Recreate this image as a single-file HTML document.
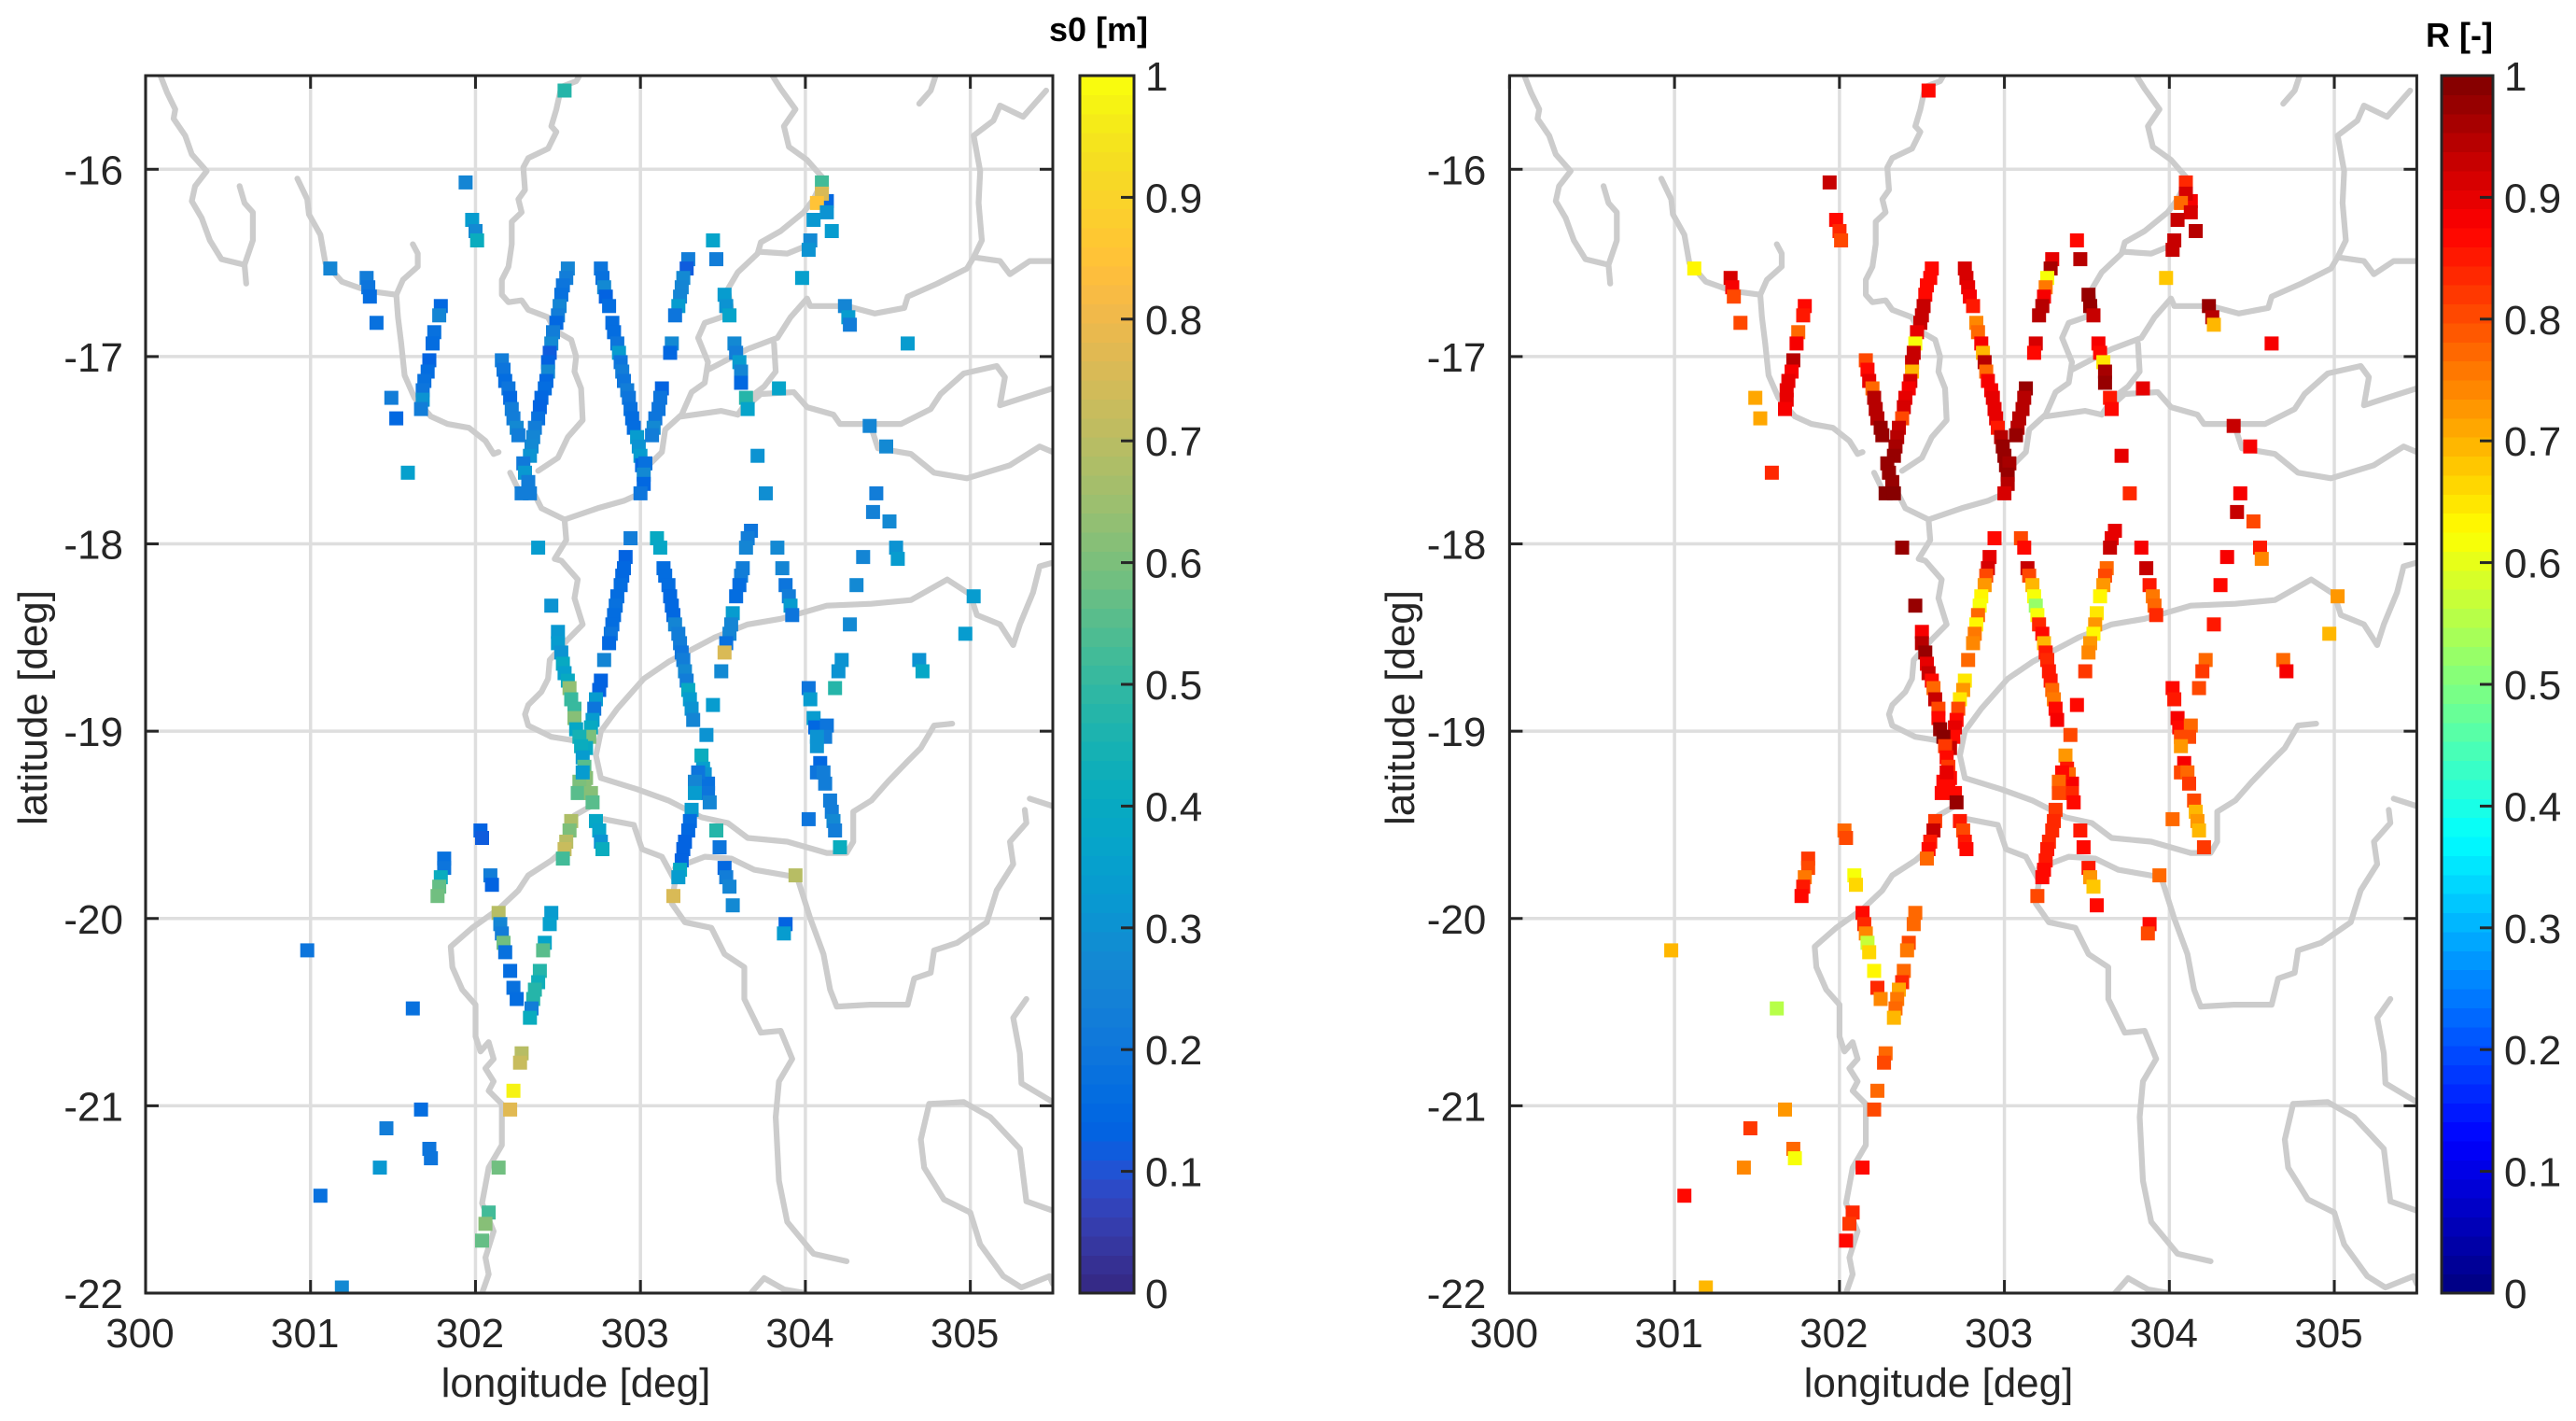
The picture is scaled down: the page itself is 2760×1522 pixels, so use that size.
<!DOCTYPE html>
<html lang="en">
<head>
<meta charset="utf-8">
<title>s0 and R maps</title>
<style>
html,body{margin:0;padding:0;background:#fff;}
svg{display:block;}
text{font-family:"Liberation Sans",sans-serif;fill:#262626;}
</style>
</head>
<body>
<svg id="figure" xmlns="http://www.w3.org/2000/svg" width="2760" height="1522" viewBox="0 0 2760 1522">
  <rect x="0" y="0" width="2760" height="1522" fill="#ffffff"/>
  <g id="panel-s0"></g>
  <g id="panel-r"></g>
  <text x="617" y="1496" font-size="44" text-anchor="middle">longitude [deg]</text>
  <text x="2077" y="1496" font-size="44" text-anchor="middle">longitude [deg]</text>
  <text transform="translate(50 758) rotate(-90)" font-size="44" text-anchor="middle">latitude [deg]</text>
  <text transform="translate(1515 758) rotate(-90)" font-size="44" text-anchor="middle">latitude [deg]</text>
  <text x="1230" y="44" font-size="36" font-weight="bold" text-anchor="end" style="fill:#000">s0 [m]</text>
  <text x="2671" y="50" font-size="36" font-weight="bold" text-anchor="end" style="fill:#000">R [-]</text>
</svg>
<script>
// ---------- chart data (longitude deg, latitude deg, s0 m, R -) ----------
const lonTicks=[300,301,302,303,304,305];
const latTicks=[-16,-17,-18,-19,-20,-21,-22];
const colorTicks=[0,0.1,0.2,0.3,0.4,0.5,0.6,0.7,0.8,0.9,1];

const lon=[
302.54,301.94,301.98,302.00,302.01,301.12,301.34,301.35,301.36,301.40,
301.79,301.78,301.75,301.74,301.72,301.71,301.69,301.68,301.68,301.67,301.49,301.52,301.59,
302.56,302.55,302.53,302.52,302.51,302.50,302.49,302.47,302.46,302.45,302.44,302.44,302.43,302.42,302.40,302.39,302.38,302.36,302.35,302.34,302.33,302.29,302.30,302.32,302.28,302.33,
302.16,302.17,302.18,302.20,302.21,302.22,302.23,302.25,302.26,
302.76,302.77,302.78,302.79,302.81,302.83,302.84,302.86,302.87,302.88,302.89,302.90,302.92,302.93,302.94,302.95,302.96,302.98,302.99,303.00,303.01,
303.13,303.12,303.11,303.09,303.08,303.07,303.03,303.02,303.02,303.00,
303.19,303.18,303.29,303.28,303.26,303.25,303.24,303.23,303.21,303.44,303.46,303.51,303.52,303.54,303.57,303.58,303.60,303.61,303.61,303.64,303.65,303.84,
304.13,304.10,304.10,304.07,304.13,304.05,304.16,304.03,304.02,303.98,304.24,304.26,304.27,304.62,
304.39,304.49,303.71,303.76,304.43,304.41,304.51,304.55,304.56,304.35,304.31,305.02,304.27,304.97,304.69,304.71,304.22,304.20,304.18,304.02,304.03,
303.67,303.65,303.64,303.83,303.62,303.61,303.60,303.58,303.86,303.88,303.90,303.91,303.92,303.56,303.55,303.54,303.52,303.51,303.49,303.44,
302.94,302.91,302.90,302.89,302.88,302.86,302.85,302.84,302.83,302.82,302.81,302.78,302.76,302.75,302.73,302.72,302.71,302.70,302.69,302.67,
303.10,303.12,303.14,303.15,303.17,303.18,303.19,303.20,303.21,303.23,303.24,303.25,303.26,303.27,303.28,303.29,303.30,303.31,303.32,
302.38,302.46,302.50,302.50,302.52,302.53,302.54,302.56,302.57,302.58,302.60,302.60,302.61,302.63,302.64,302.65,302.66,302.67,302.66,302.63,302.65,302.62,302.70,302.71,
302.73,302.75,302.76,302.77,302.58,302.57,302.55,302.54,302.53,
303.40,303.37,303.38,303.39,303.41,303.41,303.42,303.35,303.33,303.33,303.31,303.30,303.29,303.27,303.26,303.25,303.24,303.23,303.20,303.46,303.48,303.51,303.52,303.54,303.56,
303.94,303.88,303.87,304.02,304.05,304.06,304.13,304.12,304.07,304.07,304.09,304.07,304.11,304.12,304.15,304.16,304.17,304.18,304.21,
302.03,302.04,301.81,301.81,301.79,301.78,301.77,302.09,302.10,302.14,302.15,302.16,302.17,302.18,302.21,302.23,302.25,
302.46,302.45,302.42,302.41,302.39,302.38,302.36,302.35,302.34,302.33,300.98,301.62,302.28,302.27,302.23,302.21,301.67,301.46,301.72,301.73,301.42,302.14,301.06,302.08,302.06,302.04,301.19
];
const lat=[
-15.58,-16.07,-16.27,-16.33,-16.38,-16.53,-16.58,-16.63,-16.68,-16.82,
-16.73,-16.78,-16.87,-16.93,-17.02,-17.08,-17.13,-17.18,-17.23,-17.28,-17.22,-17.33,-17.62,
-16.53,-16.58,-16.62,-16.67,-16.73,-16.78,-16.82,-16.87,-16.93,-16.98,-17.03,-17.08,-17.13,-17.17,-17.22,-17.27,-17.33,-17.38,-17.43,-17.48,-17.53,-17.57,-17.62,-17.67,-17.73,-17.73,
-17.02,-17.07,-17.13,-17.17,-17.22,-17.28,-17.33,-17.38,-17.42,
-16.53,-16.58,-16.63,-16.68,-16.73,-16.82,-16.87,-16.93,-16.98,-17.03,-17.08,-17.13,-17.18,-17.22,-17.28,-17.33,-17.38,-17.43,-17.48,-17.53,-17.58,
-17.17,-17.22,-17.28,-17.33,-17.38,-17.42,-17.57,-17.63,-17.68,-17.73,
-16.93,-16.98,-16.48,-16.53,-16.58,-16.63,-16.68,-16.73,-16.78,-16.38,-16.48,-16.67,-16.73,-16.78,-16.93,-16.98,-17.03,-17.08,-17.14,-17.22,-17.28,-17.17,
-16.17,-16.07,-16.13,-16.18,-16.23,-16.27,-16.33,-16.38,-16.43,-16.58,-16.73,-16.79,-16.83,-16.93,
-17.37,-17.48,-17.53,-17.73,-17.73,-17.83,-17.88,-18.02,-18.08,-18.07,-18.22,-18.28,-18.43,-18.48,-18.62,-18.68,-18.62,-18.68,-18.77,-18.77,-18.83,
-17.93,-17.97,-18.02,-18.02,-18.13,-18.17,-18.22,-18.28,-18.13,-18.22,-18.28,-18.33,-18.38,-18.37,-18.43,-18.48,-18.53,-18.58,-18.68,-18.86,
-17.97,-18.07,-18.13,-18.17,-18.22,-18.28,-18.33,-18.38,-18.43,-18.48,-18.53,-18.62,-18.73,-18.78,-18.83,-18.88,-18.94,-18.98,-19.03,-19.09,
-17.97,-18.02,-18.13,-18.17,-18.22,-18.28,-18.33,-18.38,-18.43,-18.48,-18.53,-18.58,-18.62,-18.68,-18.73,-18.78,-18.83,-18.88,-18.94,
-18.02,-18.33,-18.47,-18.53,-18.58,-18.64,-18.69,-18.73,-18.77,-18.83,-18.88,-18.93,-18.99,-19.03,-19.08,-19.14,-19.19,-19.25,-19.27,-19.27,-19.22,-19.33,-19.33,-19.38,
-19.48,-19.53,-19.59,-19.63,-19.48,-19.53,-19.59,-19.63,-19.68,
-19.02,-19.13,-19.20,-19.23,-19.28,-19.33,-19.38,-19.22,-19.27,-19.33,-19.42,-19.48,-19.53,-19.59,-19.63,-19.69,-19.74,-19.78,-19.88,-19.53,-19.62,-19.73,-19.78,-19.83,-19.93,
-19.77,-20.03,-20.08,-19.47,-18.93,-18.98,-18.97,-19.03,-19.03,-19.08,-19.17,-19.22,-19.22,-19.28,-19.37,-19.43,-19.48,-19.53,-19.62,
-19.53,-19.57,-19.68,-19.73,-19.78,-19.83,-19.88,-19.77,-19.82,-19.97,-20.03,-20.08,-20.13,-20.18,-20.28,-20.37,-20.43,
-19.97,-20.03,-20.13,-20.17,-20.28,-20.34,-20.38,-20.43,-20.48,-20.53,-20.17,-20.48,-20.72,-20.77,-20.92,-21.02,-21.02,-21.12,-21.23,-21.28,-21.33,-21.33,-21.48,-21.57,-21.63,-21.72,-21.97
];
const s0Values=[
.47,.25,.33,.27,.42,.25,.22,.2,.17,.18,
.15,.25,.18,.17,.14,.16,.18,.19,.3,.23,.22,.15,.35,
.25,.22,.2,.18,.25,.22,.15,.22,.27,.12,.13,.27,.15,.16,.15,.13,.18,.22,.25,.28,.3,.21,.32,.22,.22,.23,
.23,.2,.16,.19,.15,.23,.22,.27,.23,
.2,.18,.28,.14,.16,.17,.17,.2,.33,.19,.23,.2,.22,.2,.18,.16,.16,.33,.3,.33,.15,
.14,.2,.2,.2,.27,.22,.18,.28,.15,.19,
.27,.15,.22,.12,.27,.25,.25,.33,.2,.37,.23,.33,.3,.37,.27,.22,.33,.25,.15,.47,.37,.37,
.15,.52,.75,.85,.3,.32,.33,.27,.3,.35,.25,.33,.22,.33,
.25,.27,.3,.29,.23,.24,.28,.31,.33,.25,.27,.33,.28,.33,.31,.38,.3,.3,.47,.2,.33,
.2,.23,.25,.27,.23,.22,.16,.17,.25,.2,.23,.33,.2,.33,.25,.25,.18,.75,.27,.33,
.23,.14,.15,.15,.17,.17,.18,.16,.17,.2,.15,.25,.13,.13,.33,.2,.33,.4,.6,.4,
.4,.38,.17,.16,.16,.15,.15,.15,.26,.22,.22,.2,.22,.27,.22,.4,.33,.3,.25,
.33,.3,.32,.33,.3,.4,.35,.4,.63,.5,.5,.62,.38,.45,.42,.33,.55,.62,.62,.6,.33,.55,.62,.55,
.38,.37,.3,.42,.68,.6,.7,.72,.52,
.3,.42,.35,.3,.18,.2,.25,.2,.25,.33,.33,.17,.15,.13,.13,.13,.4,.33,.76,.47,.2,.15,.22,.26,.28,
.7,.13,.33,.2,.33,.15,.2,.23,.3,.3,.15,.2,.23,.23,.22,.22,.27,.22,.42,
.13,.12,.18,.2,.42,.57,.58,.22,.13,.7,.25,.22,.58,.18,.17,.18,.16,
.33,.35,.37,.55,.47,.43,.47,.47,.22,.42,.2,.18,.7,.72,.98,.78,.17,.22,.2,.2,.32,.58,.18,.52,.62,.57,.27
];
const rValues=[
.87,.93,.87,.84,.8,.63,.92,.89,.8,.8,
.87,.85,.78,.88,.95,.88,.9,.9,.9,.88,.71,.71,.84,
.87,.86,.87,.87,.93,.93,.93,.9,.61,.93,.93,.7,.92,.88,.9,.92,.8,.93,.95,.96,.97,.97,.97,.97,.99,.99,
.8,.87,.9,.78,.95,.95,.95,.97,.98,
.92,.92,.9,.88,.85,.74,.77,.88,.7,.95,.77,.88,.88,.9,.9,.9,.85,.95,.97,.97,.97,
.97,.95,.95,.95,.95,.97,.96,.97,.95,.92,
.92,.87,.9,.96,.62,.75,.88,.95,.95,.87,.95,.97,.97,.93,.88,.87,.65,.96,.98,.85,.87,.9,
.88,.83,.92,.78,.91,.93,.94,.93,.93,.68,.97,.95,.7,.88,
.93,.88,.9,.83,.88,.93,.8,.85,.74,.88,.87,.72,.85,.69,.78,.88,.78,.82,.8,.87,.85,
.9,.9,.93,.88,.78,.8,.73,.63,.93,.85,.75,.77,.83,.65,.73,.64,.72,.74,.82,.86,
.87,.9,.92,.8,.72,.63,.62,.77,.63,.75,.74,.77,.65,.73,.65,.8,.87,.9,.87,.93,
.8,.87,.93,.8,.7,.62,.52,.62,.83,.86,.7,.85,.83,.85,.85,.77,.75,.87,.88,
.97,.97,.88,.94,.97,.9,.93,.87,.78,.93,.8,.87,.97,.99,.82,.87,.82,.87,.87,.87,.9,.87,.87,.97,
.85,.8,.85,.87,.82,.93,.85,.87,.78,
.8,.73,.85,.78,.88,.83,.87,.87,.77,.8,.82,.84,.83,.83,.85,.85,.87,.87,.8,.85,.87,.85,.72,.68,.87,
.77,.86,.8,.77,.88,.87,.78,.8,.8,.72,.88,.8,.78,.82,.8,.7,.72,.7,.82,
.77,.8,.82,.8,.76,.85,.87,.61,.66,.87,.83,.74,.57,.66,.63,.84,.74,
.77,.77,.8,.75,.78,.84,.71,.75,.78,.7,.7,.56,.77,.8,.78,.8,.72,.82,.77,.62,.74,.87,.86,.83,.82,.86,.7
];

// River courses as flat lists: lon, lat, lon, lat ...
const rivers=[
[300.09,-15.50,300.13,-15.59,300.18,-15.68,300.17,-15.73,300.24,-15.82,300.28,-15.92,300.37,-16.01,300.30,-16.09,300.28,-16.17,300.34,-16.26,300.39,-16.38,300.46,-16.48,300.60,-16.51,300.61,-16.61],
[300.57,-16.09,300.60,-16.18,300.65,-16.23,300.65,-16.38,300.60,-16.51],
[300.92,-16.05,300.98,-16.16,300.99,-16.24,301.06,-16.35,301.09,-16.50,301.19,-16.60,301.35,-16.65,301.52,-16.67,301.56,-16.59,301.65,-16.52,301.65,-16.45,301.62,-16.40],
[301.52,-16.67,301.53,-16.79,301.55,-16.93,301.57,-17.10,301.63,-17.22,301.73,-17.32,301.83,-17.36,301.96,-17.38,302.06,-17.45,302.11,-17.52,302.14,-17.51],
[302.63,-15.50,302.61,-15.53,302.52,-15.56,302.49,-15.68,302.46,-15.77,302.49,-15.80,302.44,-15.89,302.32,-15.94,302.29,-15.99,302.30,-16.11,302.26,-16.16,302.28,-16.23,302.22,-16.28,302.22,-16.40,302.20,-16.52,302.16,-16.59,302.16,-16.67,302.20,-16.71,302.28,-16.70,302.32,-16.75,302.44,-16.79,302.48,-16.86,302.58,-16.91,302.61,-17.00,302.60,-17.08,302.64,-17.17,302.65,-17.34,302.56,-17.43,302.50,-17.54,302.38,-17.61],
[302.21,-17.62,302.26,-17.71,302.36,-17.74,302.40,-17.81,302.54,-17.87,302.55,-17.98,302.48,-18.08,302.52,-18.09,302.62,-18.19,302.60,-18.29,302.65,-18.43,302.56,-18.51,302.45,-18.62,302.44,-18.72,302.40,-18.79,302.32,-18.86,302.30,-18.91,302.32,-18.97,302.46,-19.03,302.60,-19.05],
[302.54,-17.87,302.74,-17.81,302.90,-17.77,303.00,-17.73,303.05,-17.58,303.13,-17.51,303.15,-17.39,303.25,-17.31,303.31,-17.19,303.39,-17.14,303.41,-17.03,303.35,-16.90,303.39,-16.82,303.49,-16.79,303.55,-16.74,303.53,-16.64,303.59,-16.55,303.71,-16.45,303.73,-16.39,303.85,-16.33,303.99,-16.23,304.05,-16.16,304.11,-16.05,304.01,-15.95,303.90,-15.88,303.87,-15.77,303.94,-15.68,303.85,-15.57,303.80,-15.50],
[303.72,-16.44,303.89,-16.45,304.03,-16.40],
[304.79,-15.50,304.76,-15.58,304.69,-15.65],
[305.46,-15.58,305.32,-15.72,305.18,-15.66,305.14,-15.74,305.02,-15.82,305.06,-16.01,305.05,-16.18,305.07,-16.38,305.02,-16.47,304.98,-16.53,304.80,-16.61,304.62,-16.68,304.60,-16.74,304.42,-16.77,304.25,-16.73,304.03,-16.73,304.01,-16.69,303.91,-16.79,303.83,-16.90,303.65,-16.96,303.41,-17.07],
[305.02,-16.47,305.18,-16.49,305.24,-16.56,305.36,-16.49,305.50,-16.49],
[303.81,-16.93,303.82,-17.08,303.75,-17.16,303.66,-17.22,303.59,-17.31,303.49,-17.29,303.25,-17.32],
[303.59,-17.31,303.73,-17.20,303.93,-17.19,304.01,-17.27,304.17,-17.31,304.21,-17.36,304.40,-17.36,304.58,-17.36,304.76,-17.28,304.82,-17.20,304.96,-17.09,305.16,-17.05,305.21,-17.11,305.18,-17.26,305.32,-17.22,305.50,-17.17],
[304.40,-17.38,304.44,-17.49,304.64,-17.52,304.78,-17.62,304.98,-17.65,305.24,-17.58,305.42,-17.48,305.50,-17.51],
[305.50,-18.10,305.42,-18.12,305.38,-18.26,305.30,-18.43,305.26,-18.54,305.18,-18.43,305.04,-18.38,305.00,-18.27,304.86,-18.19,304.64,-18.30,304.40,-18.32,304.13,-18.33,304.01,-18.36,303.85,-18.40,303.65,-18.43,303.45,-18.50,303.17,-18.63,303.02,-18.72,302.90,-18.84,302.86,-18.88,302.76,-19.00,302.73,-19.13,302.76,-19.25,302.98,-19.31,303.17,-19.37,303.37,-19.46,303.53,-19.49,303.65,-19.57,303.89,-19.59,304.13,-19.65,304.25,-19.65,304.29,-19.59,304.29,-19.43,304.40,-19.37,304.50,-19.27,304.62,-19.16,304.70,-19.09,304.78,-18.97,304.89,-18.96],
[302.70,-19.40,302.60,-19.45,302.54,-19.63,302.46,-19.69,302.32,-19.77,302.26,-19.85,302.14,-19.95,301.98,-20.05,301.85,-20.15,301.86,-20.26,301.92,-20.38,302.00,-20.46,302.00,-20.63,302.03,-20.71,302.08,-20.66,302.11,-20.75,302.06,-20.80,302.11,-20.87,302.08,-20.92,302.16,-20.99,302.16,-21.21,302.08,-21.33,302.04,-21.52,302.11,-21.67,302.06,-21.81,302.08,-21.90,302.04,-22.00],
[302.78,-19.47,302.96,-19.50,303.01,-19.63,303.13,-19.67,303.21,-19.80,303.19,-19.92,303.27,-20.02,303.43,-20.05,303.51,-20.19,303.63,-20.26,303.63,-20.43,303.73,-20.61,303.85,-20.60,303.92,-20.75,303.84,-20.87,303.82,-21.06,303.84,-21.40,303.89,-21.62,304.05,-21.79,304.25,-21.83],
[303.21,-19.73,303.39,-19.67,303.55,-19.68,303.69,-19.74,303.95,-19.78,304.03,-20.00,304.11,-20.19,304.15,-20.38,304.19,-20.47,304.39,-20.46,304.62,-20.46,304.66,-20.32,304.76,-20.29,304.78,-20.17,304.92,-20.13,305.10,-20.02,305.16,-19.85,305.26,-19.71,305.24,-19.59,305.34,-19.49,305.33,-19.42],
[305.36,-19.36,305.50,-19.40],
[305.34,-20.43,305.26,-20.53,305.30,-20.72,305.31,-20.88,305.50,-20.98],
[304.75,-20.99,304.70,-21.18,304.72,-21.33,304.84,-21.50,305.00,-21.57,305.06,-21.74,305.20,-21.91,305.31,-21.97,305.48,-21.91,305.50,-21.95],
[304.75,-20.99,304.96,-20.98,305.12,-21.06,305.30,-21.23,305.34,-21.51,305.50,-21.56],
[303.67,-22.00,303.75,-21.92,303.87,-21.98,304.00,-22.00]
];

// Colormap lookup table (64 levels), old MATLAB parula
const parulaTable=[[.2081,.1663,.5292],[.2116,.1898,.5777],[.2123,.2138,.6270],[.2081,.2386,.6771],[.1959,.2645,.7279],[.1707,.2919,.7792],[.1253,.3242,.8303],[.0591,.3598,.8683],[.0117,.3875,.8820],[.0060,.4086,.8828],[.0165,.4266,.8786],[.0329,.4430,.8720],[.0498,.4586,.8641],[.0629,.4737,.8554],[.0723,.4887,.8467],[.0779,.5040,.8384],[.0793,.5200,.8312],[.0749,.5375,.8263],[.0641,.5570,.8240],[.0488,.5772,.8228],[.0343,.5966,.8199],[.0265,.6137,.8135],[.0239,.6287,.8038],[.0231,.6418,.7913],[.0228,.6535,.7768],[.0267,.6642,.7607],[.0384,.6743,.7436],[.0590,.6838,.7254],[.0843,.6928,.7062],[.1133,.7015,.6859],[.1453,.7098,.6646],[.1801,.7177,.6424],[.2178,.7250,.6193],[.2586,.7317,.5954],[.3022,.7376,.5712],[.3482,.7424,.5473],[.3953,.7459,.5244],[.4420,.7481,.5033],[.4871,.7491,.4840],[.5300,.7491,.4661],[.5709,.7485,.4494],[.6099,.7473,.4337],[.6473,.7456,.4188],[.6834,.7435,.4044],[.7184,.7411,.3905],[.7525,.7384,.3768],[.7858,.7356,.3633],[.8185,.7327,.3498],[.8507,.7299,.3360],[.8824,.7274,.3217],[.9139,.7258,.3063],[.9450,.7261,.2886],[.9739,.7314,.2666],[.9938,.7455,.2403],[.9990,.7653,.2164],[.9955,.7861,.1967],[.9880,.8066,.1794],[.9789,.8271,.1633],[.9697,.8481,.1475],[.9626,.8705,.1309],[.9589,.8949,.1132],[.9598,.9218,.0948],[.9661,.9514,.0755],[.9763,.9831,.0538]];

// ---------- layout and scales ----------
const SVGNS='http://www.w3.org/2000/svg';
const plotTop=81,plotBottom=1385,plotWidth=972,lonMin=300,lonMax=305.5,latMin=-22,latMax=-15.5,LEVELS=64;
const INK='#262626',GRID='#dedede',RIVER='#cccccc';

function xAxis(left,v){return left+(v-lonMin)/(lonMax-lonMin)*plotWidth;}
function yAxis(v){return plotTop+(latMax-v)/(latMax-latMin)*(plotBottom-plotTop);}
function cAxis(v){return plotBottom-v*(plotBottom-plotTop);}
function css(r,g,b){return 'rgb('+Math.round(r*255)+','+Math.round(g*255)+','+Math.round(b*255)+')';}
function level(v){return Math.max(0,Math.min(LEVELS-1,Math.floor(v*LEVELS)));}
function parula(v){const c=parulaTable[level(v)];return css(c[0],c[1],c[2]);}
function jet(v){
  const t=(level(v)+0.5)/LEVELS;
  const f=function(o){return Math.max(0,Math.min(1,1.5-Math.abs(4*t-o)));};
  return css(f(3),f(2),f(1));
}
function make(tag,attrs,parent){
  const n=document.createElementNS(SVGNS,tag);
  for(const k in attrs){n.setAttribute(k,attrs[k]);}
  parent.appendChild(n);
  return n;
}
function line(parent,x1,y1,x2,y2,color,w){
  return make('line',{x1:x1,y1:y1,x2:x2,y2:y2,stroke:color,'stroke-width':w},parent);
}

function drawPanel(cfg){
  const root=document.getElementById(cfg.id);
  const left=cfg.left,right=left+plotWidth;

  const defs=make('defs',{},root);
  const clip=make('clipPath',{id:cfg.prefix+'-clip'},defs);
  make('rect',{x:left,y:plotTop,width:plotWidth,height:plotBottom-plotTop},clip);

  const gridGroup=make('g',{},root);
  
  
  lonTicks.forEach(function(t){
    const x=xAxis(left,t);
    line(gridGroup,x,plotTop,x,plotBottom,GRID,3.5);
  });
  latTicks.forEach(function(t){
    const y=yAxis(t);
    line(gridGroup,left,y,right,y,GRID,3.5);
  });

  const riverGroup=make('g',{'clip-path':'url(#'+cfg.prefix+'-clip)',fill:'none',stroke:RIVER,'stroke-width':6.2,'stroke-linejoin':'round','stroke-linecap':'round'},root);
  
  
  rivers.forEach(function(course){
    const pts=[];
    for(let i=0;i<course.length;i+=2){
      pts.push(xAxis(left,course[i]).toFixed(1)+','+yAxis(course[i+1]).toFixed(1));
    }
    const river=make('polyline',{points:pts.join(' ')},riverGroup);
    
    
  });

  const pointGroup=make('g',{'clip-path':'url(#'+cfg.prefix+'-clip)'},root);
  
  
  cfg.values.forEach(function(v,i){
    const size=15;
    const pt=make('rect',{x:(xAxis(left,lon[i])-size/2).toFixed(1),y:(yAxis(lat[i])-size/2).toFixed(1),width:size,height:size,fill:cfg.map(v)},pointGroup);
    
    
  });

  const frame=make('rect',{x:left,y:plotTop,width:plotWidth,height:plotBottom-plotTop,fill:'none',stroke:INK,'stroke-width':3},root);
  
  

  lonTicks.forEach(function(t){
    const x=xAxis(left,t);
    line(root,x,plotBottom,x,plotBottom-14,INK,3);
    line(root,x,plotTop,x,plotTop+14,INK,3);
    const label=make('text',{x:x-6,y:1443,'font-size':44,'text-anchor':'middle'},root);
    
    
    label.textContent=String(t);
  });
  latTicks.forEach(function(t){
    const y=yAxis(t);
    line(root,left,y,left+14,y,INK,3);
    line(root,right,y,right-14,y,INK,3);
    const label=make('text',{x:left-cfg.yLabelGap,y:y+16,'font-size':44,'text-anchor':'end'},root);
    
    
    label.textContent=String(t);
  });

  const cb=make('g',{},root);
  
  
  const cellH=(plotBottom-plotTop)/LEVELS;
  for(let k=0;k<LEVELS;k++){
    make('rect',{x:cfg.cbLeft,y:(plotBottom-(k+1)*cellH).toFixed(2),width:cfg.cbWidth,height:(cellH+0.5).toFixed(2),fill:cfg.map((k+0.5)/LEVELS),'shape-rendering':'crispEdges'},cb);
  }
  make('rect',{x:cfg.cbLeft,y:plotTop,width:cfg.cbWidth,height:plotBottom-plotTop,fill:'none',stroke:INK,'stroke-width':3},cb);
  colorTicks.forEach(function(t){
    const y=cAxis(t);
    const cbRight=cfg.cbLeft+cfg.cbWidth;
    if(t>0&&t<1){line(cb,cbRight,y,cbRight-14,y,INK,3);}
    const label=make('text',{x:cbRight+12,y:y+16,'font-size':44},cb);
    
    
    label.textContent=String(t);
  });
}

drawPanel({id:'panel-s0',prefix:'s0',left:156,values:s0Values,map:parula,cbLeft:1157,cbWidth:58,yLabelGap:24});
drawPanel({id:'panel-r',prefix:'r',left:1617.4,values:rValues,map:jet,cbLeft:2616,cbWidth:55,yLabelGap:25});
</script>
</body>
</html>
